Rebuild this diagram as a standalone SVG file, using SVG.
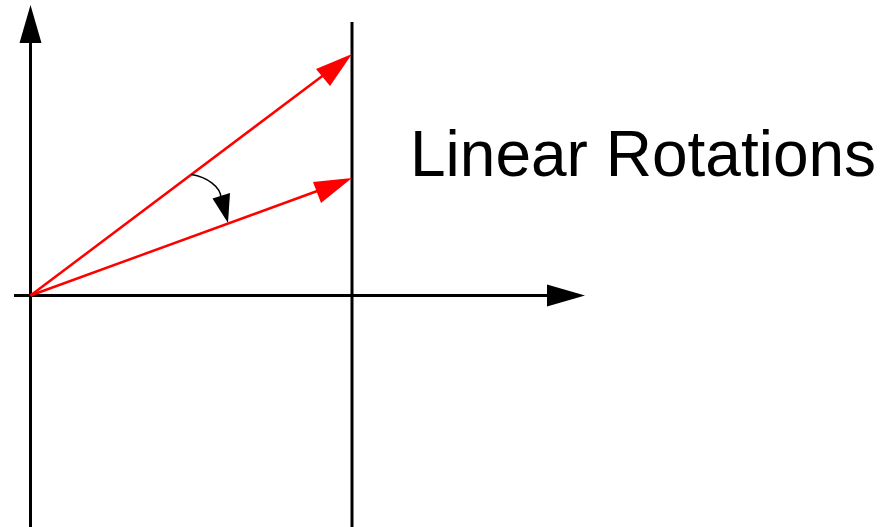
<svg xmlns="http://www.w3.org/2000/svg" width="886" height="527" viewBox="0 0 886 527">
<style>
.ax{stroke:#000;stroke-width:3;fill:none}
.red{stroke:#f00;stroke-width:2.5;fill:none}
.rh{fill:#f00}
.bh{fill:#000}
.lbl{font-family:"Liberation Sans",Arial,sans-serif;font-size:64px;fill:#000}
</style>
<rect width="886" height="527" fill="#fff"/>
<g id="connectors">
<line class="ax" x1="30.5" y1="527" x2="30.5" y2="40"/>
<polygon class="bh" points="30.5,5 19.5,43 41.5,43"/>
<line class="ax" x1="14" y1="295.5" x2="550" y2="295.5"/>
<polygon class="bh" points="585,295.5 547,284.5 547,306.5"/>
<line class="ax" x1="352" y1="22" x2="352" y2="527"/>
<line class="red" x1="30.5" y1="295.5" x2="325" y2="74"/>
<polygon class="rh" points="352,54 316,69 330,86"/>
<line class="red" x1="30.5" y1="295.5" x2="320" y2="190"/>
<polygon class="rh" points="352,178 313,182 321,203"/>
<path d="M191.5,174.5 C207,177 221,187 221,198" stroke="#000" stroke-width="1.5" fill="none"/>
<polygon class="bh" points="228,223 212.5,198.5 230,193"/>
</g>
<g id="label">
<text class="lbl" x="410" y="176">Linear Rotations</text>
</g>
</svg>
